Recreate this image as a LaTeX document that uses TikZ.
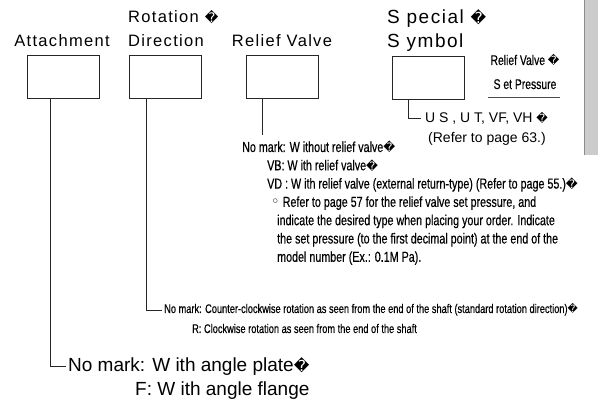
\documentclass[tikz,border=0pt]{standalone}
\usepackage{graphicx}
\usepackage{fontspec}
\setmainfont{Liberation Sans}
\newfontfamily\headfont[LetterSpace=8]{Liberation Sans}
\newfontfamily\narrowfont[FakeStretch=0.74, FakeBold=0.4]{Liberation Sans}
\newfontfamily\symfont{DejaVu Sans}
\newcommand{\qmk}{\scalebox{0.8}{\symfont �}}
\newcommand{\wcirc}{{\symfont ◦}}

\begin{document}
\begin{tikzpicture}[x = 1pt, y = -1pt,
        codebox/.style = {draw = black!85, line width = 0.9pt, minimum width = 72pt, minimum height = 43pt, inner sep = 0pt},
        leader/.style = {draw = black!85, line width = 0.9pt},
        headlabel/.style = {font = \headfont\fontsize{16.5}{24}\selectfont, inner sep = 0pt, anchor = base},
        bignote/.style = {font = \fontsize{19}{24}\selectfont, inner sep = 0pt, anchor = base west},
        smallnote/.style = {font = \narrowfont\fontsize{12.5}{20}\selectfont, inner sep = 0pt, anchor = base west},
        midnote/.style = {font = \narrowfont\fontsize{14.5}{18.3}\selectfont, inner sep = 0pt, anchor = base west}]

    \useasboundingbox (0, 0) rectangle (598, 403);

    % grey margin bar
    \fill[black!20] (584, 0) rectangle (598, 155);
    \draw[black!45, line width = 0.8pt] (584, 0) -- (584, 155);

    % headings
    \node[headlabel] (atthead) at (62, 47) {Attachment};
    \node[headlabel, anchor = base west] (rothead) at (128, 23)
        {\begin{tabular}[t]{@{}l@{}}Rotation \qmk\\Direction\end{tabular}};
    \node[headlabel] (relhead) at (282, 47) {Relief Valve};
    \node[headlabel, anchor = base west, font = \headfont\fontsize{19}{24}\selectfont] (spchead) at (387, 24)
        {\begin{tabular}[t]{@{}l@{}}S pecial \qmk\\S ymbol\end{tabular}};

    % code boxes
    \node[codebox] (attbox) at (63, 77) {};
    \node[codebox] (rotbox) at (165.5, 77) {};
    \node[codebox] (relbox) at (282, 77) {};
    \node[codebox] (spcbox) at (428, 77.5) {};

    % set pressure field
    \node[inner sep = 0pt, anchor = base, font = \narrowfont\fontsize{14}{24}\selectfont] (setp) at (525, 65)
        {\begin{tabular}[t]{@{}c@{}}Relief Valve \qmk\\S et Pressure\end{tabular}};
    \draw[black!70, line width = 0.8pt] (488, 97) -- (560, 97);

    % leader ends
    \coordinate (spcend) at (421, 118);
    \coordinate (relend) at (262, 135);
    \coordinate (rotend) at (162, 310);
    \coordinate (attend) at (66, 366);

    \draw[leader] ([xshift = -20pt]spcbox.south) |- (spcend);
    \draw[leader] ([xshift = -20pt]relbox.south) -- (relend);
    \draw[leader] ([xshift = -19.5pt]rotbox.south) |- (rotend);
    \draw[leader] ([xshift = -13pt]attbox.south) |- (attend);

    % notes
    \node[inner sep = 0pt, anchor = base west, font = \fontsize{14}{20}\selectfont] (spcnote) at (425, 123)
        {\begin{tabular}[t]{@{}l@{}}U S , U T, VF, VH \qmk\\\hspace*{3pt}(Refer to page 63.)\end{tabular}};

    \node[midnote] (relnote) at (242, 152)
        {\begin{tabular}[t]{@{}l@{}}No mark: W ithout relief valve\qmk\\
        \hspace*{25pt}VB: W ith relief valve\qmk\\
        \hspace*{25pt}VD : W ith relief valve (external return-type) (Refer to page 55.)\qmk\\
        \hspace*{29pt}\wcirc\ Refer to page 57 for the relief valve set pressure, and\\
        \hspace*{35pt}indicate the desired type when placing your order. Indicate\\
        \hspace*{35pt}the set pressure (to the first decimal point) at the end of the\\
        \hspace*{35pt}model number (Ex.: 0.1M Pa).\end{tabular}};

    \node[smallnote] (rotnote) at (164, 313)
        {\begin{tabular}[t]{@{}l@{}}No mark: Counter-clockwise rotation as seen from the end of the shaft (standard rotation direction)\qmk\\
        \hspace*{28pt}R: Clockwise rotation as seen from the end of the shaft\end{tabular}};

    \node[bignote] (attnote) at (68, 372)
        {\begin{tabular}[t]{@{}l@{}}No mark: W ith angle plate\qmk\\
        \hspace*{67pt}F: W ith angle flange\end{tabular}};

\end{tikzpicture}
\end{document}
